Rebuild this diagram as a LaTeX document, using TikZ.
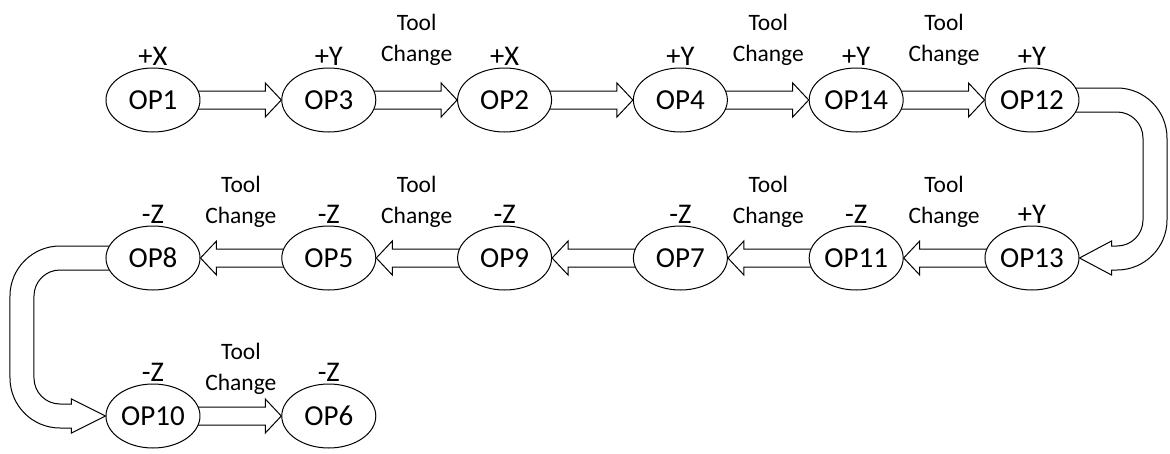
\documentclass[tikz,border=0pt]{standalone}
\usepackage{fontspec}
\setmainfont{Carlito}
\usetikzlibrary{positioning}
\usetikzlibrary{backgrounds}
\usetikzlibrary{calc}
\usetikzlibrary{shapes}
\usetikzlibrary{matrix}

\begin{document}
\begin{tikzpicture}[
    line width=1pt,
    op/.style={ellipse,draw,fill=white,inner sep=0pt,minimum width=94pt,minimum height=64pt,font=\fontsize{29}{31}\selectfont},
    every label/.style={font=\fontsize{28.5}{30}\selectfont,inner sep=2pt},
    tc/.style={align=center,inner sep=0pt,font=\fontsize{23.5}{31}\selectfont},
    fat/.style={draw,fill=white,line width=1pt,to path={let \p1=(\tikztostart), \p2=(\tikztotarget), \n1={ifthenelse(\x2>\x1,16pt,-16pt)} in
        (\x1,\y1+9pt) -- ({\x2-(\n1)},\y1+9pt) -- ({\x2-(\n1)},\y1+17pt) -- (\x2,\y2)
        -- ({\x2-(\n1)},\y1-17pt) -- ({\x2-(\n1)},\y1-9pt) -- (\x1,\y1-9pt) -- cycle}},
    uturn/.style={draw,fill=white,line width=1pt}
]
                        \matrix (m)[column sep={175.8pt,between origins},row sep={158pt,between origins}]
                        {
                            \node [op,label=above:{+X}] (op1) {OP1}; & \node [op,label=above:{+Y}] (op3) {OP3}; & \node [op,label=above:{+X}] (op2) {OP2}; & \node [op,label=above:{+Y}] (op4) {OP4}; & \node [op,label=above:{+Y}] (op14) {OP14}; & \node [op,label=above:{+Y}] (op12) {OP12}; \\
                            \node [op,label=above:{-Z}] (op8) {OP8}; & \node [op,label=above:{-Z}] (op5) {OP5}; & \node [op,label=above:{-Z}] (op9) {OP9}; & \node [op,label=above:{-Z}] (op7) {OP7}; & \node [op,label=above:{-Z}] (op11) {OP11}; & \node [op,label=above:{+Y}] (op13) {OP13}; \\
                            \node [op,label=above:{-Z}] (op10) {OP10}; & \node [op,label=above:{-Z}] (op6) {OP6}; \\
                        };
                    \begin{scope}[on background layer]
                    \path
                        (op1) edge [fat] (op3.west)
                        (op3) edge [fat] (op2.west)
                        (op2) edge [fat] (op4.west)
                        (op4) edge [fat] (op14.west)
                        (op14) edge [fat] (op12.west)
                        (op13) edge [fat] (op11.east)
                        (op11) edge [fat] (op7.east)
                        (op7) edge [fat] (op9.east)
                        (op9) edge [fat] (op5.east)
                        (op5) edge [fat] (op8.east)
                        (op10) edge [fat] (op6.west)
                    ;
                    % row ends
                    \draw [uturn] let \p1=(op12), \p2=(op13.east) in
                        (\x1,\y1+12pt) -- (\x1+85pt,\y1+12pt) arc [start angle=90,end angle=0,radius=50pt]
                        -- (\x1+135pt,\y2+38pt) arc [start angle=0,end angle=-90,radius=50pt]
                        -- (\x2+32pt,\y2-12pt) -- (\x2+32pt,\y2-17pt) -- (\x2,\y2) -- (\x2+32pt,\y2+17pt) -- (\x2+32pt,\y2+12pt)
                        -- (\x1+85pt,\y2+12pt) arc [start angle=-90,end angle=0,radius=26pt]
                        -- (\x1+111pt,\y1-38pt) arc [start angle=0,end angle=90,radius=26pt]
                        -- (\x1,\y1-12pt) -- cycle;
                    \draw [uturn] let \p1=(op8), \p2=(op10.west) in
                        (\x1,\y1+12pt) -- (\x1-93pt,\y1+12pt) arc [start angle=90,end angle=180,radius=50pt]
                        -- (\x1-143pt,\y2+38pt) arc [start angle=180,end angle=270,radius=50pt]
                        -- (\x2-34pt,\y2-12pt) -- (\x2-34pt,\y2-17pt) -- (\x2,\y2) -- (\x2-34pt,\y2+17pt) -- (\x2-34pt,\y2+12pt)
                        -- (\x1-93pt,\y2+12pt) arc [start angle=270,end angle=180,radius=26pt]
                        -- (\x1-119pt,\y1-38pt) arc [start angle=180,end angle=90,radius=26pt]
                        -- (\x1,\y1-12pt) -- cycle;
                    \end{scope}
                    \node [tc,above=34pt] at ($(op3)!.5!(op2)$) {Tool\\Change};
                    \node [tc,above=34pt] at ($(op4)!.5!(op14)$) {Tool\\Change};
                    \node [tc,above=34pt] at ($(op14)!.5!(op12)$) {Tool\\Change};
                    \node [tc,above=30pt] at ($(op8)!.5!(op5)$) {Tool\\Change};
                    \node [tc,above=30pt] at ($(op5)!.5!(op9)$) {Tool\\Change};
                    \node [tc,above=30pt] at ($(op7)!.5!(op11)$) {Tool\\Change};
                    \node [tc,above=30pt] at ($(op11)!.5!(op13)$) {Tool\\Change};
                    \node [tc,above=21pt] at ($(op10)!.5!(op6)$) {Tool\\Change};
                    \pgfresetboundingbox
                    \useasboundingbox ($(op1.center)+(-153pt,100pt)$) rectangle ++(1170pt,-453pt);
                    \end{tikzpicture}
\end{document}
